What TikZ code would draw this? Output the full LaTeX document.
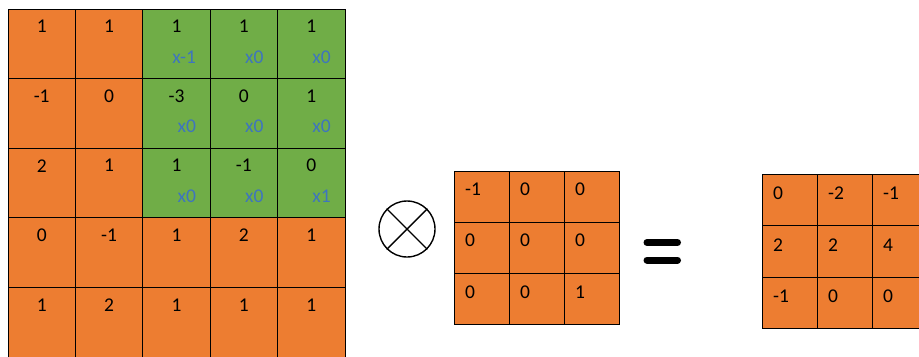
\documentclass[tikz,border=0pt]{standalone}
\usepackage{fontspec}
\setmainfont{Carlito}
\definecolor{cOrange}{HTML}{ED7D31}
\definecolor{cGreen}{HTML}{70AD47}
\definecolor{cBlue}{RGB}{62,117,190}
\tikzset{
  cellbox/.style={draw=black, line width=0.8bp, anchor=north west, inner sep=0pt, outer sep=0pt},
  bigcell/.style={cellbox, minimum width=67.4bp, minimum height=69.6bp},
  smallcell/.style={cellbox, minimum width=55bp, minimum height=51.2bp},
  numtxt/.style={inner sep=0pt, font=\fontsize{19.5bp}{22bp}\selectfont, text=black},
  lbltxt/.style={inner sep=0pt, font=\fontsize{19.5bp}{22bp}\selectfont, text=cBlue, anchor=east},
}
\begin{document}
\begin{tikzpicture}[x=1bp, y=-1bp]
\useasboundingbox (0,0) rectangle (919,356);
% left 5x5 grid
\foreach \r/\vals in {1/{1,1,1,1,1}, 2/{-1,0,-3,0,1}, 3/{2,1,1,-1,0}, 4/{0,-1,1,2,1}, 5/{1,2,1,1,1}} {
  \foreach \v [count=\c] in \vals {
    \pgfmathsetmacro{\isgreen}{(\r<4) && (\c>2) ? 1 : 0}
    \ifdim\isgreen pt>0.5pt
      \node[bigcell, fill=cGreen] (a-\r-\c) at ({8+67.4*(\c-1)}, {9+69.6*(\r-1)}) {};
    \else
      \node[bigcell, fill=cOrange] (a-\r-\c) at ({8+67.4*(\c-1)}, {9+69.6*(\r-1)}) {};
    \fi
    \node[numtxt] (an-\r-\c) at ([yshift=-17.5bp]a-\r-\c.north) {\v};
  }
}
% blue multipliers
\foreach \r/\labs in {1/{x-1,x0,x0}, 2/{x0,x0,x0}, 3/{x0,x0,x1}} {
  \foreach \l [count=\k] in \labs {
    \pgfmathtruncatemacro{\c}{\k+2}
    \node[lbltxt] (al-\r-\c) at ([xshift=-14bp,yshift=-48bp]a-\r-\c.north east) {\l};
  }
}
% convolution operator
\node[circle, draw=black, line width=1.4bp, minimum size=56bp, inner sep=0pt] (op) at (407,229) {};
\draw[line width=1.4bp] (op.45) -- (op.225);
\draw[line width=1.4bp] (op.135) -- (op.315);
% kernel 3x3
\foreach \r/\vals in {1/{-1,0,0}, 2/{0,0,0}, 3/{0,0,1}} {
  \foreach \v [count=\c] in \vals {
    \node[smallcell, fill=cOrange] (k-\r-\c) at ({454.5+55*(\c-1)}, {171+51.2*(\r-1)}) {};
    \node[numtxt, anchor=west] (kn-\r-\c) at ([xshift=10.5bp,yshift=-18.5bp]k-\r-\c.north west) {\v};
  }
}
% equals sign
\coordinate (eqa1) at (647,242.5); \coordinate (eqb1) at (677.5,242.5);
\coordinate (eqa2) at (647,260);   \coordinate (eqb2) at (677.5,260);
\draw[line width=7bp, line cap=round] (eqa1) -- (eqb1);
\draw[line width=7bp, line cap=round] (eqa2) -- (eqb2);
% result 3x3
\foreach \r/\vals in {1/{0,-2,-1}, 2/{2,2,4}, 3/{-1,0,0}} {
  \foreach \v [count=\c] in \vals {
    \node[smallcell, minimum height=51.3bp, fill=cOrange] (o-\r-\c) at ({762.5+55*(\c-1)}, {174.5+51.3*(\r-1)}) {};
    \node[numtxt, anchor=west] (on-\r-\c) at ([xshift=10.5bp,yshift=-19bp]o-\r-\c.north west) {\v};
  }
}
\end{tikzpicture}
\end{document}
